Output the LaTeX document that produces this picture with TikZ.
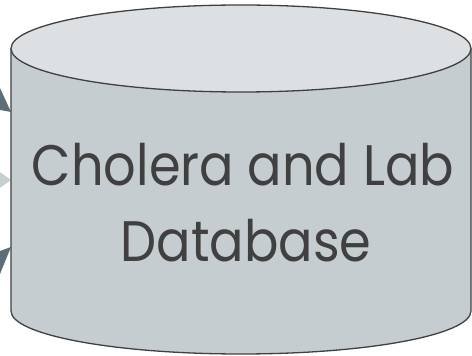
\documentclass[tikz,border=0pt]{standalone}
\usepackage{fontspec}
\setmainfont{Poppins}
\definecolor{topfill}{HTML}{DDE0E3}
\definecolor{sidefill}{HTML}{C5CDD0}
\definecolor{edge}{HTML}{404040}
\definecolor{txt}{HTML}{404040}
\definecolor{arrdark}{HTML}{5D6E78}
\definecolor{arrlight}{HTML}{C8CFD3}
\tikzset{
  cylline/.style={draw=edge, line width=1.3pt},
  label/.style={text=txt, font=\fontsize{51}{60}\selectfont, inner sep=0pt, anchor=base, yscale=1.12, transform shape},
}
\begin{document}
\begin{tikzpicture}[x=1pt,y=1pt]
\useasboundingbox (0,0) rectangle (472,356);
% arrow tips
\fill[arrdark] (0,268) -- (11,244) -- (0,246) -- cycle;
\fill[arrlight] (0,184) -- (11,176) -- (0,168) -- cycle;
\fill[arrdark] (0,105) -- (11,109) -- (0,82) -- cycle;
% cylinder body
\fill[sidefill] (11,307.5) -- (11,45) arc[start angle=180, end angle=360, x radius=230, y radius=43] -- (471,307.5) -- cycle;
\draw[cylline] (11,307.5) -- (11,45) arc[start angle=180, end angle=360, x radius=230, y radius=43] -- (471,307.5);
\draw[cylline, fill=topfill] (241,307.5) ellipse[x radius=230, y radius=43.5];
\node[label] (t1) at (243,170) {Cholera and Lab};
\node[label] (t2) at (246,94) {Database};
\end{tikzpicture}
\end{document}
